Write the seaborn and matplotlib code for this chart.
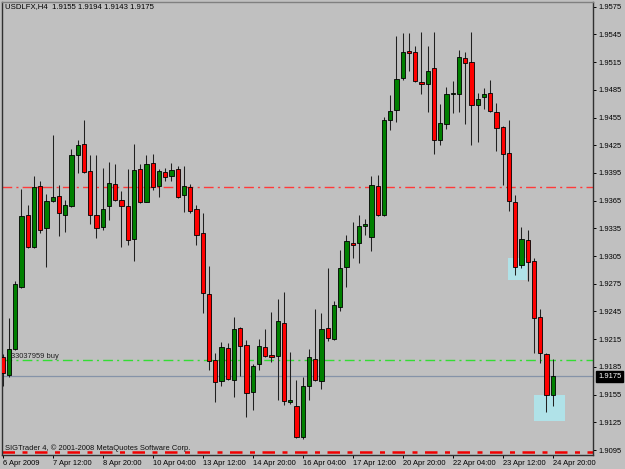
import matplotlib
matplotlib.use("Agg")
import matplotlib.pyplot as plt
import matplotlib.transforms as mtransforms
from matplotlib.patches import Rectangle
import pandas as pd
import seaborn as sns

# ---------------- data (USDLFX, H4) ----------------
open_ = [1.9196, 1.9176, 1.9204, 1.9272, 1.9349, 1.9315, 1.9381, 1.9335, 1.9365, 1.9370,
         1.9350, 1.9359, 1.9414, 1.9426, 1.9397, 1.9349, 1.9336, 1.9359, 1.9383, 1.9366,
         1.9359, 1.9324, 1.9399, 1.9364, 1.9406, 1.9381, 1.9396, 1.9392, 1.9399, 1.9371,
         1.9380, 1.9356, 1.9330, 1.9264, 1.9192, 1.9170, 1.9205, 1.9171, 1.9227, 1.9209,
         1.9158, 1.9188, 1.9207, 1.9198, 1.9197, 1.9233, 1.9147, 1.9143, 1.9109, 1.9164,
         1.9194, 1.9170, 1.9227, 1.9215, 1.9250, 1.9293, 1.9319, 1.9319, 1.9338, 1.9326,
         1.9381, 1.9349, 1.9452, 1.9463, 1.9498, 1.9527, 1.9526, 1.9494, 1.9491, 1.9509,
         1.9431, 1.9448, 1.9480, 1.9481, 1.9519, 1.9515, 1.9469, 1.9477, 1.9482, 1.9461,
         1.9445, 1.9417, 1.9363, 1.9295, 1.9322, 1.9300, 1.9239, 1.9199, 1.9155]
high = [1.9199, 1.9238, 1.9278, 1.9378, 1.9360, 1.9392, 1.9386, 1.9372, 1.9436, 1.9382,
        1.9366, 1.9421, 1.9431, 1.9452, 1.9414, 1.9414, 1.9400, 1.9407, 1.9405, 1.9375,
        1.9399, 1.9426, 1.9405, 1.9414, 1.9416, 1.9399, 1.9400, 1.9406, 1.9403, 1.9403,
        1.9383, 1.9360, 1.9352, 1.9294, 1.9200, 1.9212, 1.9211, 1.9239, 1.9228, 1.9214,
        1.9188, 1.9215, 1.9226, 1.9244, 1.9259, 1.9266, 1.9201, 1.9171, 1.9174, 1.9204,
        1.9248, 1.9243, 1.9292, 1.9256, 1.9312, 1.9328, 1.9342, 1.9350, 1.9345, 1.9392,
        1.9393, 1.9456, 1.9479, 1.9543, 1.9547, 1.9547, 1.9532, 1.9548, 1.9532, 1.9548,
        1.9470, 1.9488, 1.9495, 1.9528, 1.9526, 1.9548, 1.9482, 1.9487, 1.9496, 1.9471,
        1.9446, 1.9452, 1.9371, 1.9337, 1.9333, 1.9303, 1.9248, 1.9200, 1.9194]
low = [1.9164, 1.9174, 1.9203, 1.9270, 1.9314, 1.9314, 1.9330, 1.9293, 1.9364, 1.9327,
       1.9331, 1.9358, 1.9395, 1.9395, 1.9340, 1.9325, 1.9333, 1.9344, 1.9365, 1.9315,
       1.9317, 1.9300, 1.9362, 1.9363, 1.9376, 1.9369, 1.9386, 1.9386, 1.9368, 1.9353,
       1.9352, 1.9317, 1.9243, 1.9182, 1.9147, 1.9164, 1.9171, 1.9152, 1.9175, 1.9131,
       1.9138, 1.9182, 1.9196, 1.9190, 1.9149, 1.9144, 1.9145, 1.9108, 1.9107, 1.9149,
       1.9170, 1.9161, 1.9213, 1.9214, 1.9245, 1.9272, 1.9303, 1.9297, 1.9328, 1.9311,
       1.9348, 1.9348, 1.9442, 1.9450, 1.9496, 1.9505, 1.9494, 1.9481, 1.9461, 1.9415,
       1.9425, 1.9443, 1.9460, 1.9461, 1.9448, 1.9425, 1.9429, 1.9464, 1.9461, 1.9419,
       1.9382, 1.9354, 1.9285, 1.9292, 1.9278, 1.9200, 1.9189, 1.9136, 1.9143]
close = [1.9178, 1.9204, 1.9275, 1.9348, 1.9315, 1.9380, 1.9333, 1.9365, 1.9369, 1.9352,
         1.9360, 1.9414, 1.9425, 1.9396, 1.9350, 1.9335, 1.9356, 1.9384, 1.9366, 1.9359,
         1.9322, 1.9398, 1.9363, 1.9405, 1.9380, 1.9397, 1.9391, 1.9398, 1.9369, 1.9381,
         1.9354, 1.9328, 1.9265, 1.9191, 1.9169, 1.9207, 1.9172, 1.9226, 1.9208, 1.9157,
         1.9186, 1.9208, 1.9197, 1.9196, 1.9235, 1.9148, 1.9149, 1.9109, 1.9164, 1.9196,
         1.9171, 1.9226, 1.9216, 1.9252, 1.9292, 1.9321, 1.9317, 1.9338, 1.9340, 1.9382,
         1.9350, 1.9452, 1.9462, 1.9497, 1.9526, 1.9525, 1.9495, 1.9491, 1.9505, 1.9431,
         1.9449, 1.9481, 1.9482, 1.9520, 1.9514, 1.9469, 1.9475, 1.9481, 1.9462, 1.9444,
         1.9416, 1.9365, 1.9293, 1.9324, 1.9299, 1.9238, 1.9200, 1.9155, 1.9175]

time_labels = ["6 Apr 2009", "7 Apr 12:00", "8 Apr 20:00", "10 Apr 04:00", "13 Apr 12:00",
               "14 Apr 20:00", "16 Apr 04:00", "17 Apr 12:00", "20 Apr 20:00", "22 Apr 04:00",
               "23 Apr 12:00", "24 Apr 20:00"]
time_label_bars = [0, 8, 16, 24, 32, 40, 48, 56, 64, 72, 80, 88]
price_ticks = [1.9575, 1.9545, 1.9515, 1.9485, 1.9455, 1.9425, 1.9395, 1.9365, 1.9335,
               1.9305, 1.9275, 1.9245, 1.9215, 1.9185, 1.9155, 1.9125, 1.9095]

bid_price = 1.9175
order_price = 1.9192
order_label = "33037959 buy"
take_profit = 1.9380
stop_loss = 1.9093
# highlighted zones: (first bar, last bar, top price, bottom price)
zone_start = [80.9, 85.0]
zone_end = [83.95, 89.95]
zone_top = [1.9303, 1.9155]
zone_bottom = [1.9279, 1.9126]

title = "USDLFX,H4  1.9155 1.9194 1.9143 1.9175"
copyright_text = "SIGTrader 4, \u00a9 2001-2008 MetaQuotes Software Corp."

# ---------------- styling ----------------
BG = "#C0C0C0"
sns.set_theme(style="ticks", rc={"axes.facecolor": BG, "figure.facecolor": BG})
plt.rcParams["font.family"] = ["Liberation Sans", "DejaVu Sans"]
FS = 5.4

df = pd.DataFrame({"open": open_, "high": high, "low": low, "close": close})
df["bar"] = range(len(df))
df["bull"] = df["close"] >= df["open"]
df["body_lo"] = df[["open", "close"]].min(axis=1)
df["body_h"] = (df["close"] - df["open"]).abs()

W, H = 625, 469
fig = plt.figure(figsize=(W / 100, H / 100), dpi=100)
left, right, top, bottom = 1.7, 593.5, 1.7, 455.0
ax = fig.add_axes([left / W, (H - bottom) / H, (right - left) / W, (bottom - top) / H])
ax.set_facecolor(BG)

# zones
for s, e, t, b in zip(zone_start, zone_end, zone_top, zone_bottom):
    ax.add_patch(Rectangle((s, b), e - s, t - b, facecolor="#B0E2E8", edgecolor="none", zorder=1))

# horizontal lines
ax.axhline(take_profit, color="#FF3A3A", lw=1.0, dashes=(7, 3, 1.5, 3), zorder=2)
ax.axhline(order_price, color="#33DD33", lw=1.0, dashes=(7, 3, 1.5, 3), zorder=2)
ax.axhline(bid_price, color="#8593A8", lw=0.9, zorder=2)
ax.axhline(stop_loss, color="#F00000", lw=1.8, dashes=(5, 3, 2, 3), zorder=2)

# wicks
sns.despine(ax=ax, top=False, right=False, left=False, bottom=False)
ax.vlines(df["bar"], df["low"], df["high"], color="#202020", lw=0.75, zorder=3)
# bodies
colors = ["#008000" if b else "#FF0000" for b in df["bull"]]
min_h = 0.00005
ax.bar(df["bar"], df["body_h"].clip(lower=min_h), bottom=df["body_lo"], width=0.66,
       color=colors, edgecolor="#000000", linewidth=0.6, zorder=4)

ax.set_xlim((left - 2.7) / 6.25, (right - 2.7) / 6.25)
px_per_price = 9236.0
ax.set_ylim(1.958225 - bottom / px_per_price, 1.958225 - top / px_per_price)

# ticks
ax.yaxis.tick_right()
ax.set_yticks(price_ticks)
ax.set_yticklabels([f"{p:.4f}" for p in price_ticks], fontsize=FS, color="#000000")
ax.tick_params(axis="y", direction="out", length=2.5, width=0.7, pad=1, colors="#000000")
ax.set_xticks(time_label_bars)
ax.set_xticklabels(time_labels, fontsize=FS, ha="left")
ax.tick_params(axis="x", direction="out", length=2.5, width=0.7, pad=0.8, colors="#000000")
for lab in ax.get_xticklabels():
    lab.set_horizontalalignment("left")

for side in ["left", "right", "bottom"]:
    ax.spines[side].set_color("#303030")
    ax.spines[side].set_linewidth(1.0)
ax.spines["top"].set_color("#808080")
ax.spines["top"].set_linewidth(1.0)
ax.grid(False)

# bid price label box
trans = mtransforms.blended_transform_factory(ax.transAxes, ax.transData)
ax.text(1.0075, bid_price, f"{bid_price:.4f}", transform=trans, fontsize=FS, color="white",
        va="center", ha="left",
        bbox=dict(boxstyle="square,pad=0.25", facecolor="black", edgecolor="black"),
        zorder=10, clip_on=False)

# texts
ax.text(0.0056, 0.996, title, transform=ax.transAxes, fontsize=FS + 0.2, va="top", ha="left",
        color="black")
ax.text(0.0056, 0.007, copyright_text, transform=ax.transAxes, fontsize=FS, va="bottom",
        ha="left", color="#101010")
ax.text(1.3, order_price + 0.00008, order_label, fontsize=FS, va="bottom", ha="left",
        color="#202020", zorder=5)

fig.savefig("out.png", dpi=100, facecolor=BG)
